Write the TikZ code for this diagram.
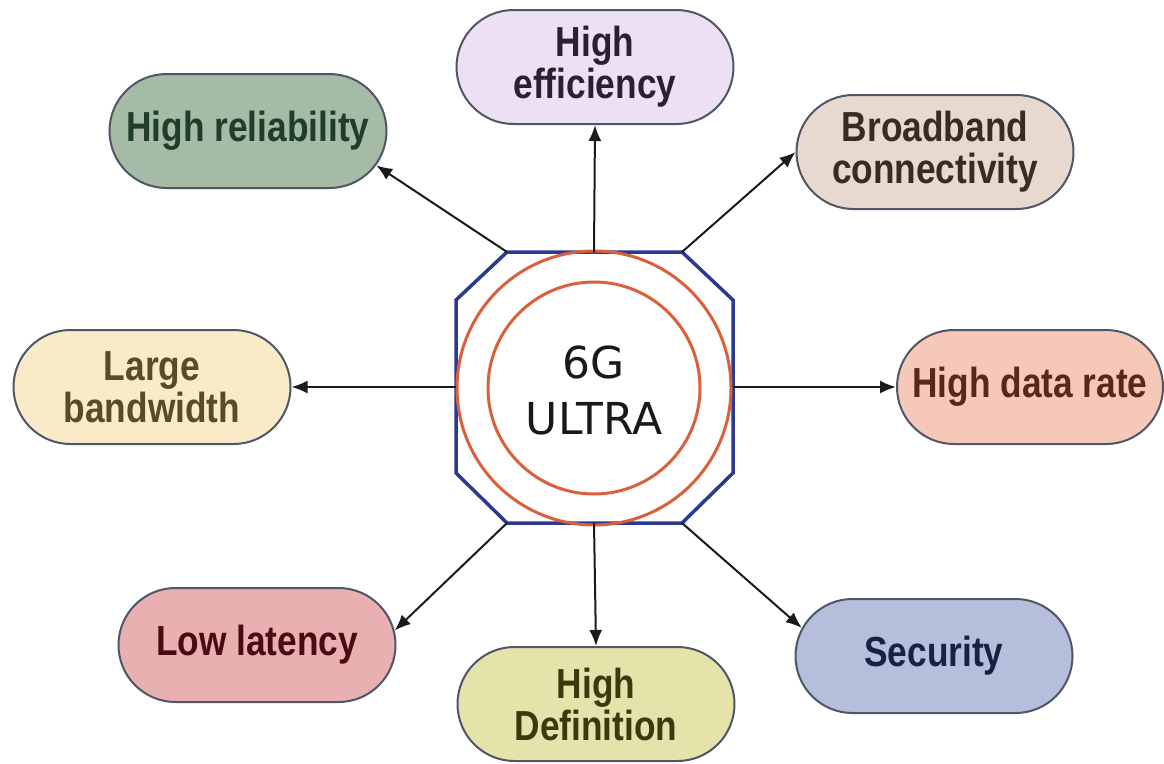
\documentclass[tikz,border=0pt]{standalone}
\usepackage{fontspec}
\setmainfont{Liberation Sans}
\newfontfamily\labelfont[FakeStretch=0.84]{Liberation Sans}
\newfontfamily\hubfont{DejaVu Sans}
\usetikzlibrary{arrows.meta,shapes.misc}

\definecolor{boxline}{HTML}{4E5668}
\definecolor{octblue}{HTML}{2B3990}
\definecolor{ringred}{HTML}{D9603B}
\definecolor{arrowgray}{HTML}{1A1A1A}
\definecolor{relfill}{HTML}{A5BBA5}\definecolor{reltext}{HTML}{1E3D2A}
\definecolor{efffill}{HTML}{EDE0F2}\definecolor{efftext}{HTML}{2A2030}
\definecolor{bbfill}{HTML}{E8D9D0}\definecolor{bbtext}{HTML}{3A2A20}
\definecolor{bwfill}{HTML}{FAEBC8}\definecolor{bwtext}{HTML}{5A4A28}
\definecolor{ratefill}{HTML}{F6C8B8}\definecolor{ratetext}{HTML}{5A2818}
\definecolor{latfill}{HTML}{E8B0B0}\definecolor{lattext}{HTML}{4A0A10}
\definecolor{deffill}{HTML}{E6E3AA}\definecolor{deftext}{HTML}{3A3A10}
\definecolor{secfill}{HTML}{B5BEDB}\definecolor{sectext}{HTML}{1A2040}

\begin{document}
\begin{tikzpicture}[x=1pt, y=-1pt, >={Latex[length=16pt,width=13pt]},
    feature/.style 2 args={rounded rectangle, draw=boxline, line width=2pt,
        fill=#1, text=#2, minimum width=277pt, minimum height=114pt,
        inner sep=0pt, align=center,
        font=\labelfont\bfseries\fontsize{42}{42}\selectfont},
    link/.style={->, line width=2pt, draw=arrowgray},
    ring/.style={draw=ringred, line width=3pt}]
    \useasboundingbox (0,0) rectangle (1164,763);

    % Octagon corners and edge midpoints
    \coordinate (nw) at (507,252);
    \coordinate (ne) at (682,252);
    \coordinate (en) at (733,300);
    \coordinate (es) at (733,473);
    \coordinate (se) at (682,523);
    \coordinate (sw) at (507,523);
    \coordinate (ws) at (456,473);
    \coordinate (wn) at (456,300);
    \coordinate (n) at (594,252);
    \coordinate (s) at (594,523);
    \coordinate (w) at (456,387);
    \coordinate (e) at (733,387);

    % Draw Hub
    \draw[octblue, line width=3.5pt] (nw) -- (ne) -- (en) -- (es) -- (se) -- (sw) -- (ws) -- (wn) -- cycle;
    \draw[ring] (594,388) circle[radius=137pt];
    \draw[ring] (594,388) circle[radius=106pt];
    \node[font=\hubfont\fontsize{44}{56}\selectfont, text=black!90, align=center] (hub) at (594,390) {6G\\ULTRA};

    % Draw Features
    \node[feature={efffill}{efftext}] (eff) at (595,67) {High\\efficiency};
    \node[feature={relfill}{reltext}] (rel) at (248,131) {High reliability};
    \node[feature={bbfill}{bbtext}] (bb) at (935,152) {Broadband\\connectivity};
    \node[feature={bwfill}{bwtext}] (bw) at (152,387) {Large\\bandwidth};
    \node[feature={ratefill}{ratetext}, minimum width=266pt] (rate) at (1030,387) {High data rate};
    \node[feature={latfill}{lattext}] (lat) at (257,645) {Low latency};
    \node[feature={deffill}{deftext}] (def) at (596,704) {High\\Definition};
    \node[feature={secfill}{sectext}] (sec) at (934,656) {Security};

    % Draw Links
    \draw[link] (n) -- (eff.south);
    \draw[link] (nw) -- (rel.-15);
    \draw[link] (ne) -- (bb.west);
    \draw[link] (w) -- (bw.east);
    \draw[link] (e) -- (rate.west);
    \draw[link] (sw) -- (lat.6);
    \draw[link] (s) -- (def.north);
    \draw[link] (se) -- (sec.168);

\end{tikzpicture}
\end{document}
